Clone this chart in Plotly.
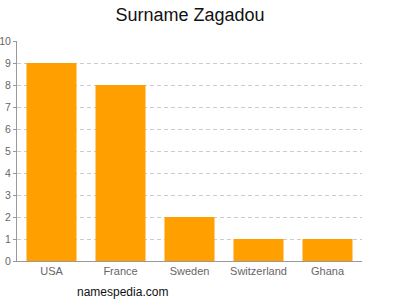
import plotly.graph_objects as go

countries = ["USA", "France", "Sweden", "Switzerland", "Ghana"]
counts = [9, 8, 2, 1, 1]
y_ticks = list(range(0, 11))

fig = go.Figure(go.Bar(x=countries, y=counts, marker=dict(color="#FFA000", line=dict(width=0))))

fig.update_layout(
    width=400, height=300,
    margin=dict(l=17, r=38, t=41, b=39, autoexpand=False),
    paper_bgcolor="white", plot_bgcolor="white",
    bargap=0.275,
    showlegend=False,
    font=dict(family="Liberation Sans, Arial, sans-serif", color="#666666", size=11),
    title=dict(text="Surname Zagadou", x=0.475, xanchor="center", y=0.95, yanchor="middle",
               font=dict(size=18, color="#111111")),
    annotations=[dict(text="namespedia.com", xref="paper", yref="paper", x=0.168, y=-0.141,
                      xanchor="left", yanchor="middle", showarrow=False,
                      font=dict(size=12, color="#111111"))],
)
fig.update_xaxes(showline=True, linecolor="#999999", linewidth=1, ticks="", showgrid=False,
                 automargin=False, tickfont=dict(size=11, color="#666666"))
fig.update_yaxes(range=[0, 10], tickvals=y_ticks, showline=True, linecolor="#999999", linewidth=1,
                 ticks="outside", ticklen=3, tickcolor="#999999", automargin=False,
                 ticklabelstandoff=0,
                 showgrid=True, gridcolor="#CCCCCC", griddash="4px,3px", gridwidth=1,
                 zeroline=False, tickfont=dict(size=10.5, color="#666666"))

fig.write_html("out.html")
